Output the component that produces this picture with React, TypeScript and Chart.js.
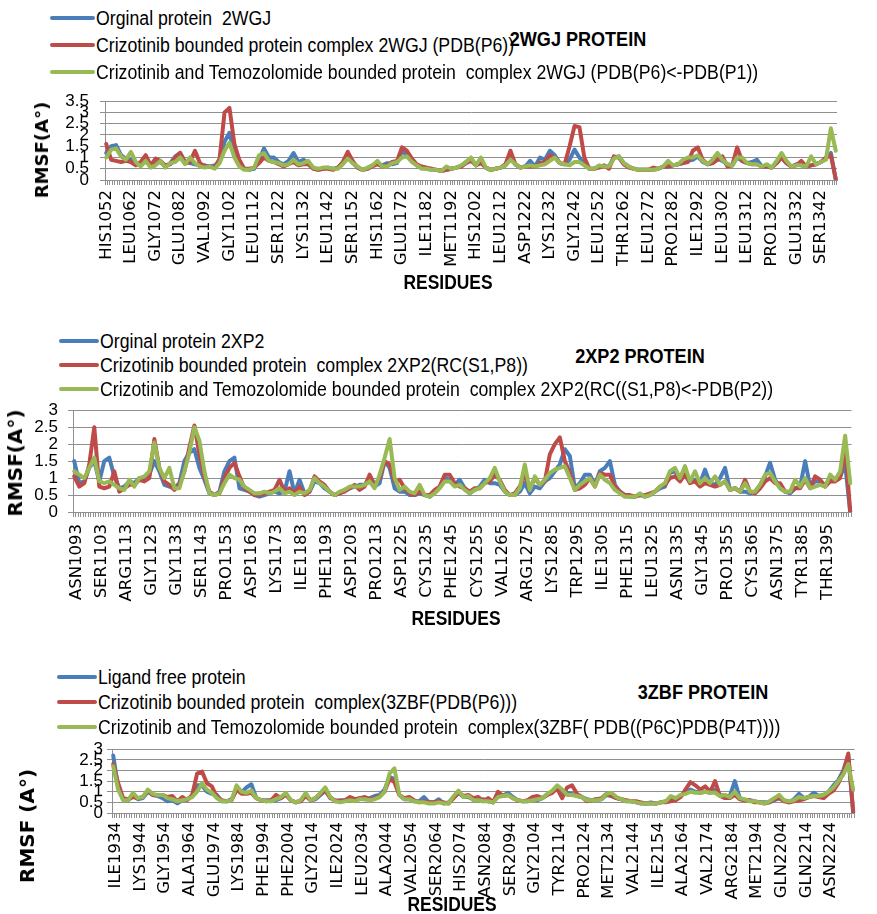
import React, { useEffect, useRef } from 'react';
import { Chart, registerables } from 'chart.js';

Chart.register(...registerables);

// ---------- DATA ----------
// RMSF values are sampled at every second residue position (index 0, 2, 4, ...)

// Panel 1: 2WGJ
const wgjTickLabels = ['HIS1052', 'LEU1062', 'GLY1072', 'GLU1082', 'VAL1092', 'GLY1102', 'LEU1112', 'SER1122', 'LYS1132', 'LEU1142', 'SER1152', 'HIS1162', 'GLU1172', 'ILE1182', 'MET1192', 'HIS1202', 'LEU1212', 'ASP1222', 'LYS1232', 'GLY1242', 'LEU1252', 'THR1262', 'LEU1272', 'PRO1282', 'ILE1292', 'LEU1302', 'LEU1312', 'PRO1322', 'GLU1332', 'SER1342'];
const wgjResidueCount = 297;
const wgjFirstLabelIndex = 0;
const wgjSeriesNames = ['Orginal protein  2WGJ', 'Crizotinib bounded protein complex 2WGJ (PDB(P6))', 'Crizotinib and Temozolomide bounded protein  complex 2WGJ (PDB(P6)<-PDB(P1))'];
const wgjOriginal = [
  1.2, 1.5, 1.55, 1.1, 0.95, 0.9, 0.7, 0.75, 0.85, 0.6,
  0.75, 0.8, 0.6, 0.75, 1.05, 1.2, 0.8, 0.75, 0.7, 0.65,
  0.65, 0.6, 0.65, 0.8, 1.7, 2.1, 1.2, 0.7, 0.5, 0.45,
  0.5, 0.9, 1.4, 1.0, 1.0, 0.8, 0.7, 0.85, 1.2, 0.8,
  0.9, 0.75, 0.55, 0.45, 0.5, 0.55, 0.5, 0.55, 0.75, 1.1,
  0.75, 0.55, 0.45, 0.5, 0.65, 0.75, 0.65, 0.75, 0.7, 0.75,
  1.3, 1.1, 0.85, 0.65, 0.55, 0.5, 0.45, 0.45, 0.4, 0.45,
  0.5, 0.55, 0.6, 0.8, 0.95,
  0.65, 0.8, 0.55, 0.45, 0.5, 0.55, 0.65, 1.0, 0.7, 0.55,
  0.6, 0.85, 0.6, 1.0, 0.9, 1.3, 1.1, 0.75, 0.7, 0.9,
  1.35, 1.0, 0.7, 0.5, 0.5, 0.6, 0.6, 0.6, 1.0, 1.05,
  0.75, 0.6, 0.5, 0.45, 0.45, 0.45, 0.45, 0.5, 0.6, 0.6,
  0.65, 0.7, 0.75, 0.85, 0.9, 1.05, 0.8, 0.7, 0.75, 0.95,
  0.85, 0.7, 0.65, 1.0, 0.85, 0.75, 0.8, 0.9, 0.6, 0.6,
  0.55, 0.75, 1.0, 0.75, 0.6, 0.7, 0.65, 0.6, 0.65, 0.7,
  0.8, 0.95, 1.2, 0.0,
];
const wgjCrizotinib = [
  1.6, 0.9, 0.85, 0.8, 0.85, 0.8, 0.65, 0.8, 1.1, 0.65,
  0.95, 0.85, 0.65, 0.7, 1.0, 1.2, 0.75, 0.8, 1.3, 0.75,
  0.6, 0.6, 0.55, 0.95, 3.0, 3.2, 1.6, 0.9, 0.5, 0.5,
  0.55, 0.75, 1.0, 0.85, 0.8, 0.7, 0.6, 0.7, 0.8, 0.65,
  0.7, 0.7, 0.5, 0.45, 0.5, 0.5, 0.45, 0.55, 0.8, 1.25,
  0.85, 0.55, 0.45, 0.5, 0.6, 0.7, 0.6, 0.65, 0.8, 0.85,
  1.45, 1.3, 0.95, 0.7, 0.6, 0.55, 0.5, 0.45, 0.4, 0.45,
  0.5, 0.55, 0.6, 0.75, 0.85,
  0.65, 0.75, 0.55, 0.45, 0.5, 0.55, 0.7, 1.3, 0.7, 0.55,
  0.6, 0.6, 0.6, 0.75, 0.8, 1.1, 1.0, 0.75, 0.7, 1.5,
  2.4, 2.35, 1.0, 0.5, 0.5, 0.55, 0.65, 0.5, 1.05, 1.0,
  0.7, 0.55, 0.5, 0.45, 0.45, 0.45, 0.55, 0.5, 0.6, 0.6,
  0.65, 0.7, 0.75, 0.8, 1.3, 1.45, 0.9, 0.7, 0.75, 0.9,
  1.05, 0.6, 0.65, 1.45, 0.85, 0.75, 0.7, 0.7, 0.6, 0.6,
  0.55, 0.75, 1.0, 0.75, 0.6, 0.65, 0.85, 0.6, 0.65, 0.7,
  0.8, 1.0, 1.1, 0.05,
];
const wgjCombined = [
  1.0, 1.35, 1.4, 1.05, 0.9, 1.25, 0.8, 0.6, 0.85, 0.55,
  0.65, 0.85, 0.55, 0.75, 0.8, 1.0, 0.7, 1.0, 0.75, 0.6,
  0.55, 0.6, 0.5, 0.75, 1.3, 1.65, 1.0, 0.6, 0.45, 0.45,
  0.55, 1.1, 1.2, 0.85, 0.8, 0.75, 0.65, 0.7, 0.9, 0.7,
  0.75, 0.85, 0.55, 0.5, 0.55, 0.55, 0.5, 0.5, 0.7, 0.95,
  0.75, 0.6, 0.45, 0.55, 0.65, 0.85, 0.6, 0.6, 0.75, 0.8,
  1.0, 1.05, 0.8, 0.65, 0.5, 0.5, 0.45, 0.45, 0.4, 0.6,
  0.5, 0.55, 0.65, 0.8, 1.0,
  0.65, 1.0, 0.55, 0.45, 0.5, 0.55, 0.65, 0.9, 0.7, 0.55,
  0.6, 0.65, 0.6, 0.65, 0.7, 0.85, 1.0, 0.75, 0.7, 0.65,
  0.8, 0.8, 0.65, 0.5, 0.5, 0.65, 0.6, 0.6, 0.95, 1.05,
  0.75, 0.6, 0.5, 0.45, 0.45, 0.45, 0.45, 0.5, 0.6, 0.85,
  0.65, 0.7, 0.9, 1.0, 1.0, 1.1, 0.85, 0.7, 0.9, 1.2,
  0.9, 0.7, 0.65, 1.0, 1.0, 0.75, 0.7, 0.7, 0.6, 0.7,
  0.55, 0.85, 1.2, 0.85, 0.6, 0.65, 0.65, 0.6, 1.05, 0.7,
  0.8, 0.9, 2.3, 1.3,
];

// Panel 2: 2XP2
const xp2TickLabels = ['ASN1093', 'SER1103', 'ARG1113', 'GLY1123', 'GLY1133', 'SER1143', 'PRO1153', 'ASP1163', 'LYS1173', 'ILE1183', 'PHE1193', 'ASP1203', 'PRO1213', 'ASP1225', 'CYS1235', 'PHE1245', 'CYS1255', 'VAL1265', 'ARG1275', 'LYS1285', 'TRP1295', 'ILE1305', 'PHE1315', 'LEU1325', 'ASN1335', 'GLY1345', 'PRO1355', 'CYS1365', 'ASN1375', 'TYR1385', 'THR1395'];
const xp2ResidueCount = 311;
const xp2FirstLabelIndex = 1;
const xp2SeriesNames = ['Orginal protein 2XP2', 'Crizotinib bounded protein  complex 2XP2(RC(S1,P8))', 'Crizotinib and Temozolomide bounded protein  complex 2XP2(RC((S1,P8)<-PDB(P2))'];
const xp2Original = [
  1.5, 0.85, 0.9, 1.3, 1.5, 0.9, 1.5, 1.6, 1.05, 0.7,
  0.75, 0.9, 0.85, 1.0, 0.95, 1.1, 1.5, 1.2, 0.8, 0.75,
  0.7, 0.85, 1.5, 1.75, 1.85, 1.3, 0.95, 0.55, 0.5, 0.6,
  1.2, 1.5, 1.6, 0.7, 0.65, 0.6, 0.5, 0.45, 0.5, 0.55,
  0.6, 0.55, 0.6, 1.2, 0.55, 0.95, 0.55, 0.6, 0.9, 0.85,
  0.7, 0.6, 0.5, 0.55, 0.65, 0.7, 0.75, 0.8, 0.8, 0.9,
  0.75, 0.85, 1.5, 1.3, 0.7, 0.6, 0.6, 0.5, 0.5, 0.55,
  0.5, 0.45, 0.6, 0.75, 1.0,
  0.95, 0.8, 0.95, 0.7, 0.55, 0.65, 0.75, 0.95, 0.85, 0.85,
  0.8, 0.6, 0.5, 0.5, 0.6, 0.85, 0.55, 0.75, 0.7, 0.9,
  1.0, 1.2, 1.4, 1.85, 1.65, 0.7, 0.85, 1.1, 1.1, 0.8,
  1.2, 1.3, 1.5, 0.8, 0.6, 0.5, 0.45, 0.45, 0.5, 0.45,
  0.5, 0.6, 0.7, 0.75, 1.15, 1.2, 0.95, 1.1, 0.9, 0.95,
  0.85, 1.25, 0.85, 0.8, 1.0, 1.3, 0.65, 0.7, 0.6, 0.6,
  0.55, 0.6, 0.8, 1.05, 1.45, 0.95, 0.7, 0.6, 0.55, 0.7,
  0.75, 1.5, 0.75, 0.9, 0.9, 0.8, 0.95, 0.95, 1.05, 1.4,
  0.0,
];
const xp2Crizotinib = [
  1.05, 0.75, 0.85, 1.4, 2.5, 0.75, 0.7, 0.75, 1.2, 0.6,
  0.7, 0.8, 0.8, 0.95, 0.9, 1.0, 2.15, 1.3, 0.9, 0.8,
  0.65, 0.8, 1.2, 1.9, 2.55, 1.7, 1.05, 0.6, 0.5, 0.55,
  1.0, 1.3, 1.45, 1.05, 0.7, 0.6, 0.5, 0.5, 0.55, 0.6,
  0.65, 0.95, 0.6, 0.7, 0.55, 0.75, 0.5, 0.6, 1.05, 0.9,
  0.8, 0.6, 0.5, 0.55, 0.6, 0.7, 0.8, 0.65, 0.75, 1.1,
  0.8, 1.0, 1.5, 1.4, 0.9, 0.95, 0.7, 0.55, 0.5, 0.6,
  0.5, 0.5, 0.65, 0.75, 1.1,
  1.1, 0.85, 0.75, 0.7, 0.6, 0.7, 0.7, 0.85, 0.9, 1.1,
  0.95, 0.65, 0.5, 0.55, 0.75, 1.1, 0.7, 1.0, 0.8, 0.9,
  1.7, 2.0, 2.2, 1.5, 1.15, 0.65, 0.7, 0.8, 1.0, 0.75,
  1.15, 1.1, 1.1, 0.75, 0.6, 0.5, 0.5, 0.45, 0.5, 0.5,
  0.55, 0.6, 0.75, 0.8, 1.0, 1.05, 0.9, 1.1, 0.85, 0.9,
  0.75, 0.85, 0.8, 0.75, 0.8, 0.9, 0.65, 0.7, 0.6, 0.95,
  0.6, 0.55, 0.7, 0.9, 1.0, 0.85, 0.85, 0.6, 0.6, 0.7,
  0.7, 0.95, 0.7, 1.05, 0.95, 0.75, 0.9, 0.9, 1.0, 2.0,
  0.0,
];
const xp2Combined = [
  1.2, 1.1, 1.0, 1.3, 1.6, 0.9, 0.85, 0.9, 0.8, 0.7,
  0.65, 0.95, 0.75, 1.0, 1.05, 1.2, 2.05, 1.3, 1.0, 1.3,
  0.7, 0.7, 1.2, 1.75, 2.5, 2.1, 1.2, 0.55, 0.5, 0.55,
  0.85, 1.1, 1.0, 0.95, 0.75, 0.65, 0.55, 0.55, 0.6, 0.55,
  0.6, 0.7, 0.55, 0.6, 0.5, 0.6, 0.55, 0.65, 1.0, 0.85,
  0.75, 0.6, 0.5, 0.6, 0.65, 0.75, 0.75, 0.75, 0.8, 0.9,
  0.7, 1.1, 1.6, 2.15, 1.0, 0.65, 0.75, 0.6, 0.55, 0.8,
  0.5, 0.45, 0.55, 0.7, 0.9,
  0.9, 0.75, 0.8, 0.65, 0.55, 0.65, 0.7, 0.85, 1.0, 1.3,
  0.9, 0.6, 0.5, 0.5, 0.7, 1.4, 0.65, 1.05, 0.8, 0.95,
  1.15, 1.25, 1.3, 1.35, 1.0, 0.65, 0.8, 0.9, 1.0, 0.75,
  1.1, 0.95, 0.85, 0.65, 0.55, 0.45, 0.45, 0.45, 0.55, 0.45,
  0.5, 0.6, 0.75, 0.85, 1.2, 1.3, 1.0, 1.35, 0.9, 1.2,
  0.85, 1.0, 0.85, 1.05, 0.8, 0.9, 0.65, 0.7, 0.6, 0.85,
  0.6, 0.6, 0.8, 1.1, 1.15, 0.9, 0.7, 0.6, 0.6, 0.95,
  0.75, 1.0, 0.7, 0.75, 0.8, 0.75, 1.1, 0.95, 1.2, 2.25,
  0.85,
];

// Panel 3: 3ZBF
const zbfTickLabels = ['ILE1934', 'LYS1944', 'GLY1954', 'ALA1964', 'GLU1974', 'LYS1984', 'PHE1994', 'PHE2004', 'GLY2014', 'ILE2024', 'LEU2034', 'ALA2044', 'VAL2054', 'SER2064', 'HIS2074', 'ASN2084', 'SER2094', 'GLY2104', 'TYR2114', 'PRO2124', 'MET2134', 'VAL2144', 'ILE2154', 'ALA2164', 'VAL2174', 'ARG2184', 'MET2194', 'GLN2204', 'GLN2214', 'ASN2224'];
const zbfResidueCount = 301;
const zbfFirstLabelIndex = 1;
const zbfSeriesNames = ['Ligand free protein', 'Crizotinib bounded protein  complex(3ZBF(PDB(P6)))', 'Crizotinib and Temozolomide bounded protein  complex(3ZBF( PDB((P6C)PDB(P4T))))'];
const zbfLigandFree = [
  2.7, 1.2, 0.65, 0.6, 0.8, 0.65, 0.7, 1.0, 0.85, 0.8,
  0.7, 0.55, 0.6, 0.45, 0.6, 0.65, 0.8, 1.3, 1.3, 1.0,
  0.9, 0.85, 0.55, 0.55, 0.65, 1.1, 0.95, 1.2, 1.35, 0.7,
  0.6, 0.6, 0.6, 0.6, 0.7, 0.9, 0.6, 0.5, 0.6, 0.85,
  0.6, 0.65, 0.85, 1.05, 0.75, 0.55, 0.6, 0.6, 0.6, 0.6,
  0.7, 0.65, 0.7, 0.8, 0.85, 1.1, 1.7, 1.6, 0.85, 0.65,
  0.65, 0.55, 0.55, 0.75, 0.5, 0.5, 0.65, 0.45, 0.5, 0.75,
  0.95, 0.75, 0.75, 0.65,
  0.6, 0.65, 0.55, 0.5, 0.9, 0.8, 0.95, 0.75, 0.6, 0.55,
  0.55, 0.65, 0.6, 0.7, 0.85, 1.0, 1.2, 0.9, 0.95, 0.9,
  0.8, 0.75, 0.65, 0.6, 0.65, 0.65, 0.85, 0.8, 0.7, 0.65,
  0.55, 0.55, 0.5, 0.45, 0.45, 0.5, 0.45, 0.5, 0.55, 0.6,
  0.65, 0.8, 0.95, 1.1, 1.0, 0.95, 1.0, 0.95, 1.1, 0.85,
  0.8, 0.8, 1.5, 0.7, 0.6, 0.6, 0.55, 0.5, 0.5, 0.5,
  0.6, 0.7, 0.6, 0.5, 0.65, 0.9, 0.7, 0.75, 0.95, 0.8,
  0.85, 1.0, 1.3, 1.55, 2.0, 2.7, 0.0,
];
const zbfCrizotinib = [
  2.3, 1.4, 0.7, 0.65, 0.75, 0.7, 0.75, 1.05, 0.85, 0.85,
  0.85, 0.75, 0.8, 0.55, 0.75, 0.6, 0.85, 1.85, 1.95, 1.4,
  1.25, 0.75, 0.6, 0.55, 0.6, 1.1, 0.9, 0.9, 0.95, 0.7,
  0.6, 0.55, 0.6, 0.85, 0.7, 0.85, 0.6, 0.5, 0.55, 0.8,
  0.6, 0.7, 0.9, 1.05, 0.7, 0.6, 0.55, 0.6, 0.75, 0.65,
  0.7, 0.75, 0.65, 0.7, 0.8, 1.0, 1.6, 1.45, 0.85, 0.7,
  0.75, 0.6, 0.5, 0.55, 0.5, 0.5, 0.55, 0.5, 0.45, 0.7,
  0.95, 0.8, 0.85, 0.7,
  0.75, 0.55, 0.7, 0.5, 1.0, 0.8, 0.85, 0.7, 0.6, 0.55,
  0.6, 0.75, 0.8, 0.7, 0.85, 0.95, 1.15, 0.7, 1.2, 1.3,
  0.9, 0.75, 0.55, 0.6, 0.65, 0.7, 0.9, 0.8, 0.7, 0.65,
  0.6, 0.55, 0.55, 0.5, 0.45, 0.45, 0.45, 0.5, 0.5, 0.55,
  0.6, 0.75, 1.1, 1.45, 1.3, 1.1, 1.25, 1.0, 1.5, 0.8,
  0.7, 0.7, 0.85, 0.65, 0.6, 0.6, 0.5, 0.5, 0.45, 0.5,
  0.65, 0.7, 0.55, 0.5, 0.55, 0.6, 0.65, 0.75, 0.8, 0.75,
  0.7, 0.9, 1.05, 1.4, 1.9, 2.8, 0.05,
];
const zbfCombined = [
  2.2, 1.1, 0.6, 0.6, 0.95, 0.7, 0.75, 1.1, 0.9, 0.85,
  0.85, 0.7, 0.65, 0.55, 0.6, 0.65, 0.75, 1.0, 1.4, 1.1,
  0.95, 0.7, 0.55, 0.55, 0.6, 1.3, 1.0, 0.95, 1.05, 0.7,
  0.6, 0.55, 0.55, 0.65, 0.75, 0.95, 0.6, 0.5, 0.6, 0.95,
  0.6, 0.7, 0.95, 1.2, 0.75, 0.55, 0.5, 0.55, 0.6, 0.55,
  0.65, 0.65, 0.6, 0.65, 0.75, 1.0, 1.85, 2.1, 0.85, 0.65,
  0.65, 0.55, 0.5, 0.5, 0.45, 0.45, 0.5, 0.45, 0.45, 0.8,
  1.05, 0.75, 0.8, 0.6,
  0.6, 0.55, 0.55, 0.5, 0.75, 0.8, 0.85, 0.7, 0.6, 0.55,
  0.55, 0.6, 0.65, 0.7, 0.9, 1.05, 1.3, 1.1, 0.85, 0.85,
  0.8, 0.75, 0.6, 0.6, 0.6, 0.65, 0.9, 0.95, 0.75, 0.65,
  0.55, 0.55, 0.5, 0.45, 0.45, 0.45, 0.45, 0.5, 0.55, 0.8,
  0.7, 0.85, 0.9, 1.0, 0.95, 0.95, 1.0, 0.95, 0.95, 0.8,
  0.85, 0.75, 1.0, 0.7, 0.65, 0.55, 0.55, 0.5, 0.45, 0.55,
  0.7, 0.85, 0.6, 0.55, 0.6, 0.75, 0.7, 0.75, 0.8, 0.8,
  0.85, 1.0, 1.2, 1.5, 1.8, 2.3, 1.1,
];

const SAMPLE_STEP = 2;

// ---------- STYLE ----------
const COLORS = ['#4A7EBB', '#BE4B48', '#98B954'];
const GRID = '#8f8f8f';
const SANS = "'Liberation Sans', Arial, sans-serif";
const WIDE = "'DejaVu Sans', Verdana, sans-serif";

function buildLabels(tickLabels: string[], count: number, first: number): string[] {
  const out: string[] = [];
  for (let i = 0; i < count; i++) {
    const k = i - first;
    out.push(k >= 0 && k % 10 === 0 && tickLabels[k / 10] ? tickLabels[k / 10] : '');
  }
  return out;
}

function expand(values: number[], count: number): (number | null)[] {
  const out: (number | null)[] = new Array(count).fill(null);
  values.forEach((v, k) => {
    out[k * SAMPLE_STEP] = v;
  });
  return out;
}

type PanelProps = {
  top: number;
  height: number;
  plotLeft: number;
  plotRight: number;
  plotTop: number;
  plotBottom: number;
  yMax: number;
  yTickPad: number;
  xTickPad: number;
  tickLabels: string[];
  count: number;
  first: number;
  series: number[][];
  names: string[];
};

function PanelChart(p: PanelProps) {
  const ref = useRef<HTMLCanvasElement | null>(null);
  useEffect(() => {
    if (!ref.current) return;
    const labels = buildLabels(p.tickLabels, p.count, p.first);
    const chart = new Chart(ref.current, {
      type: 'line',
      data: {
        labels,
        datasets: p.series.map((s, i) => ({
          label: p.names[i],
          data: expand(s, p.count),
          borderColor: COLORS[i],
          backgroundColor: COLORS[i],
          borderWidth: 4,
          pointRadius: 0,
          tension: 0,
          spanGaps: true,
          borderJoinStyle: 'round' as const,
          borderCapStyle: 'round' as const,
          order: 2 - i,
        })),
      },
      options: {
        animation: false,
        responsive: false,
        maintainAspectRatio: false,
        devicePixelRatio: 1,
        layout: {
          padding: { left: 0, top: p.plotTop, right: 877 - p.plotRight, bottom: 0 },
        },
        plugins: {
          legend: { display: false },
          tooltip: { enabled: false },
          title: { display: false },
        },
        scales: {
          x: {
            type: 'category',
            offset: true,
            grid: {
              offset: true,
              drawOnChartArea: false,
              drawTicks: true,
              tickLength: 5,
              color: GRID,
              lineWidth: 1,
            },
            border: { color: GRID, width: 1 },
            ticks: {
              autoSkip: false,
              maxRotation: 90,
              minRotation: 90,
              padding: p.xTickPad,
              color: '#000',
              font: { family: WIDE, size: 16.5 },
            },
            afterFit: (scale: any) => {
              scale.height = p.height - p.plotBottom;
            },
          },
          y: {
            type: 'linear',
            min: 0,
            max: p.yMax,
            grid: { color: GRID, lineWidth: 1, tickLength: 5, drawTicks: true },
            border: { color: GRID, width: 1 },
            ticks: {
              stepSize: 0.5,
              autoSkip: false,
              padding: p.yTickPad,
              color: '#000',
              font: { family: SANS, size: 17 },
              callback: (v: any) => String(Number(v)),
            },
            afterFit: (scale: any) => {
              scale.width = p.plotLeft;
            },
          },
        },
      },
    } as any);
    return () => chart.destroy();
  }, []);
  return (
    <canvas
      ref={ref}
      width={877}
      height={p.height}
      style={{ position: 'absolute', left: 0, top: p.top, width: 877, height: p.height }}
    />
  );
}

type LegendProps = { left: number; textLeft: number; rows: number[]; names: string[] };

function Legend({ left, textLeft, rows, names }: LegendProps) {
  return (
    <>
      {names.map((n, i) => (
        <div
          key={i}
          style={{
            position: 'absolute',
            left,
            top: rows[i],
            transform: 'translateY(-50%)',
            display: 'flex',
            alignItems: 'center',
            whiteSpace: 'pre',
            fontFamily: SANS,
            fontSize: 20,
            color: '#000',
            lineHeight: 1,
          }}
        >
          <span
            style={{
              display: 'inline-block',
              width: textLeft - left - 1,
              height: 4,
              borderRadius: 2,
              background: COLORS[i],
              marginRight: 1,
            }}
          />
          <span style={{ display: 'inline-block', transform: 'scaleX(0.885)', transformOrigin: 'left center' }}>{n}</span>
        </div>
      ))}
    </>
  );
}

function CenterText(props: { x: number; y: number; text: string; size: number; family: string; rotate?: boolean; squeeze?: number }) {
  const sq = props.squeeze ?? 1;
  return (
    <div
      style={{
        position: 'absolute',
        left: props.x,
        top: props.y,
        transform: `translate(-50%, -50%)${props.rotate ? ' rotate(-90deg)' : ''} scaleX(${sq})`,
        fontFamily: props.family,
        fontWeight: 'bold',
        fontSize: props.size,
        whiteSpace: 'pre',
        lineHeight: 1,
        color: '#000',
      }}
    >
      {props.text}
    </div>
  );
}

export default function App() {
  return (
    <div
      style={{
        position: 'absolute',
        left: 0,
        top: 0,
        width: 877,
        height: 914,
        background: '#fff',
        overflow: 'hidden',
      }}
    >
      {/* Panel 1 */}
      <PanelChart
        top={80}
        height={200}
        plotLeft={105}
        plotRight={837}
        plotTop={13}
        plotBottom={100}
        yMax={3.5}
        yTickPad={11}
        xTickPad={5}
        tickLabels={wgjTickLabels}
        count={wgjResidueCount}
        first={wgjFirstLabelIndex}
        series={[wgjOriginal, wgjCrizotinib, wgjCombined]}
        names={wgjSeriesNames}
      />
      <Legend left={50} textLeft={96} rows={[18, 45, 72]} names={wgjSeriesNames} />
      <CenterText x={578} y={38} text="2WGJ PROTEIN" size={21} family={SANS} squeeze={0.86} />
      <CenterText x={42} y={150} text="RMSF(A°)" size={18} family={WIDE} rotate />
      <CenterText x={448} y={281} text="RESIDUES" size={21} family={SANS} squeeze={0.83} />

      {/* Panel 2 */}
      <PanelChart
        top={390}
        height={230}
        plotLeft={73}
        plotRight={869}
        plotTop={16}
        plotBottom={122}
        yMax={3}
        yTickPad={10}
        xTickPad={7}
        tickLabels={xp2TickLabels}
        count={xp2ResidueCount}
        first={xp2FirstLabelIndex}
        series={[xp2Original, xp2Crizotinib, xp2Combined]}
        names={xp2SeriesNames}
      />
      <Legend left={59} textLeft={100} rows={[341, 365, 389]} names={xp2SeriesNames} />
      <CenterText x={640} y={355} text="2XP2 PROTEIN" size={21} family={SANS} squeeze={0.86} />
      <CenterText x={15} y={463} text="RMSF(A°)" size={20} family={WIDE} rotate />
      <CenterText x={456} y={617} text="RESIDUES" size={21} family={SANS} squeeze={0.83} />

      {/* Panel 3 */}
      <PanelChart
        top={735}
        height={179}
        plotLeft={112}
        plotRight={877}
        plotTop={12}
        plotBottom={78}
        yMax={3}
        yTickPad={4}
        xTickPad={4}
        tickLabels={zbfTickLabels}
        count={zbfResidueCount}
        first={zbfFirstLabelIndex}
        series={[zbfLigandFree, zbfCrizotinib, zbfCombined]}
        names={zbfSeriesNames}
      />
      <Legend left={57} textLeft={98} rows={[677, 702, 727]} names={zbfSeriesNames} />
      <CenterText x={703} y={691} text="3ZBF PROTEIN" size={21} family={SANS} squeeze={0.86} />
      <CenterText x={27} y={826} text="RMSF (A°)" size={20} family={WIDE} rotate />
      <CenterText x={452} y={903} text="RESIDUES" size={21} family={SANS} squeeze={0.83} />
    </div>
  );
}
